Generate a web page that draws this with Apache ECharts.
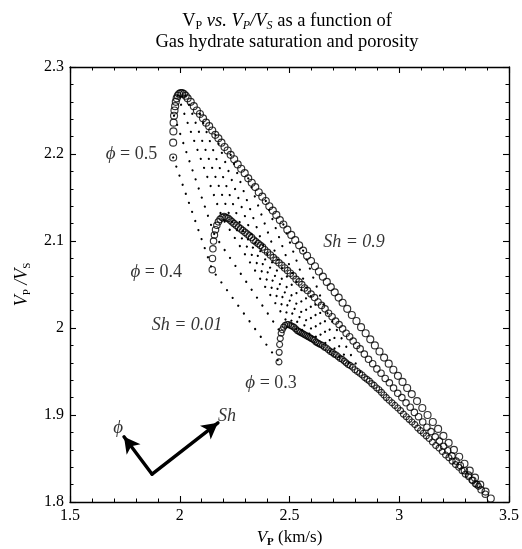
<!DOCTYPE html>
<html><head><meta charset="utf-8">
<script src="https://cdn.jsdelivr.net/npm/echarts@6/dist/echarts.min.js"></script>
<style>html,body{margin:0;padding:0;background:#fff}#c{width:522px;height:549px}</style>
</head><body><div id="c"></div>
<script>
// ---- data ----
// porosity 0.5 curve, Sh = 0.01 ... 0.90
const vp05 = [1.970,1.970,1.971,1.972,1.974,1.976,1.979,1.982,1.986,1.991,1.997,2.004,2.011,2.019,2.027,2.036,
2.050,2.064,2.078,2.092,2.106,2.120,2.134,2.148,2.162,2.176,2.190,2.204,2.218,2.232,
2.248,2.264,2.280,2.296,2.312,2.328,2.344,2.360,2.376,2.392,2.408,2.424,2.440,2.456,2.472,
2.490,2.508,2.526,2.544,2.562,2.580,2.598,2.616,2.634,2.652,2.670,2.688,2.706,2.724,2.742,
2.763,2.784,2.805,2.826,2.847,2.868,2.889,2.910,2.931,2.952,2.973,2.994,3.015,3.036,3.057,
3.081,3.105,3.129,3.153,3.177,3.201,3.225,3.249,3.273,3.297,3.321,3.345,3.369,3.393,3.417];
const ratio05 = [2.196,2.213,2.226,2.236,2.244,2.250,2.255,2.260,2.264,2.267,2.269,2.270,2.270,2.269,2.267,2.264,
2.260,2.255,2.250,2.246,2.241,2.236,2.232,2.227,2.222,2.218,2.213,2.208,2.204,2.199,
2.194,2.188,2.183,2.178,2.172,2.167,2.162,2.156,2.151,2.146,2.140,2.135,2.130,2.124,2.119,
2.113,2.107,2.101,2.095,2.089,2.083,2.077,2.071,2.065,2.059,2.053,2.047,2.041,2.035,2.029,
2.022,2.015,2.008,2.001,1.994,1.987,1.980,1.973,1.966,1.959,1.952,1.945,1.938,1.931,1.924,
1.916,1.908,1.900,1.892,1.884,1.876,1.868,1.860,1.852,1.844,1.836,1.828,1.820,1.812,1.804];
// porosity 0.4 curve
const vp04 = [2.148,2.149,2.151,2.154,2.158,2.163,2.169,2.176,2.184,2.193,2.202,2.211,2.220,2.229,2.238,
2.247,2.257,2.267,2.277,2.287,2.297,2.307,2.317,2.327,2.337,2.347,2.357,2.367,2.377,2.387,
2.400,2.413,2.426,2.439,2.452,2.465,2.478,2.491,2.504,2.517,2.530,2.543,2.556,2.569,2.582,
2.598,2.614,2.630,2.646,2.662,2.678,2.694,2.710,2.726,2.742,2.758,2.774,2.790,2.806,2.822,
2.841,2.860,2.879,2.898,2.917,2.936,2.955,2.974,2.993,3.012,3.031,3.050,3.069,3.088,3.107,
3.126,3.145,3.164,3.183,3.202,3.221,3.240,3.259,3.278,3.297,3.316,3.335,3.354,3.373,3.392];
const ratio04 = [2.067,2.080,2.091,2.100,2.107,2.113,2.118,2.122,2.125,2.127,2.128,2.127,2.126,2.124,2.122,
2.120,2.118,2.116,2.114,2.112,2.110,2.108,2.106,2.104,2.101,2.099,2.097,2.095,2.093,2.090,
2.087,2.084,2.081,2.078,2.075,2.072,2.069,2.066,2.063,2.060,2.056,2.053,2.050,2.046,2.043,
2.039,2.035,2.030,2.026,2.022,2.017,2.013,2.008,2.004,1.999,1.994,1.990,1.985,1.980,1.976,
1.970,1.964,1.959,1.953,1.948,1.942,1.937,1.931,1.925,1.920,1.914,1.909,1.903,1.898,1.892,
1.886,1.881,1.875,1.870,1.864,1.859,1.853,1.847,1.842,1.836,1.831,1.825,1.820,1.814,1.809];
// porosity 0.3 curve
const vp03 = [2.452,2.453,2.455,2.458,2.462,2.467,2.473,2.480,2.488,2.496,2.504,2.512,2.520,2.528,2.536,
2.543,2.550,2.557,2.564,2.571,2.578,2.585,2.592,2.599,2.606,2.613,2.620,2.627,2.634,2.641,
2.650,2.659,2.668,2.677,2.686,2.695,2.704,2.713,2.722,2.731,2.740,2.749,2.758,2.767,2.776,
2.787,2.798,2.809,2.820,2.831,2.842,2.853,2.864,2.875,2.886,2.897,2.908,2.919,2.930,2.941,
2.954,2.967,2.980,2.993,3.006,3.019,3.032,3.045,3.058,3.071,3.084,3.097,3.110,3.123,3.136,
3.151,3.166,3.181,3.196,3.211,3.226,3.241,3.256,3.271,3.286,3.301,3.316,3.331,3.346,3.361];
const ratio03 = [1.961,1.972,1.981,1.988,1.994,1.998,2.001,2.003,2.004,2.004,2.003,2.002,2.001,1.999,1.997,
1.996,1.995,1.994,1.993,1.992,1.991,1.990,1.989,1.988,1.987,1.986,1.984,1.983,1.982,1.981,
1.980,1.978,1.977,1.975,1.973,1.972,1.970,1.969,1.967,1.965,1.964,1.962,1.960,1.958,1.957,
1.955,1.952,1.950,1.948,1.946,1.943,1.941,1.939,1.936,1.934,1.931,1.929,1.926,1.923,1.920,
1.917,1.914,1.911,1.908,1.905,1.901,1.898,1.895,1.892,1.889,1.885,1.882,1.879,1.876,1.873,
1.869,1.865,1.862,1.858,1.854,1.851,1.847,1.843,1.840,1.836,1.832,1.829,1.825,1.821,1.818];
// Sh steps (1-based index into the curves) joined by dotted iso-saturation lines
const isoShIndex = [1,5,10,15,20,25,30,35,40,45,50];
// axis ticks
const xTickLabels = [1.5, 2, 2.5, 3, 3.5];
const yTickLabels = [1.8, 1.9, 2, 2.1, 2.2, 2.3];
// annotations
const noteX = [1.780, 1.893, 2.416, 2.033, 2.794, 1.719, 2.215];
const noteY = [2.200, 2.064, 1.937, 2.003, 2.099, 1.885, 1.898];
const noteText = ['0.5', '0.4', '0.3', 'Sh = 0.01', 'Sh = 0.9', 'phi', 'Sh'];
// direction arrows: shared vertex, then the phi tip and the Sh tip
const arrowVertex = [1.874, 1.832];
const arrowTipVp = [1.746, 2.174];
const arrowTipRatio = [1.875, 1.891];

// ---- chart ----
const FONT = "'Liberation Serif','Times New Roman',serif";
const chart = echarts.init(document.getElementById('c'), null, {renderer: 'canvas'});

function pts(xs, ys) { return xs.map((v, i) => [v, ys[i]]); }

const circleStyle = {color: 'rgba(0,0,0,0)', borderColor: '#000', borderWidth: 1.15};
const series = [
  {type: 'scatter', data: pts(vp05, ratio05), symbol: 'circle', symbolSize: 7, itemStyle: circleStyle, z: 3, silent: true},
  {type: 'scatter', data: pts(vp04, ratio04), symbol: 'circle', symbolSize: 6.4, itemStyle: circleStyle, z: 3, silent: true},
  {type: 'scatter', data: pts(vp03, ratio03), symbol: 'circle', symbolSize: 6.0, itemStyle: circleStyle, z: 3, silent: true}
];
isoShIndex.forEach(k => {
  const i = k - 1;
  series.push({
    type: 'line', showSymbol: false, silent: true, z: 2,
    data: [[vp05[i], ratio05[i]], [vp04[i], ratio04[i]], [vp03[i], ratio03[i]]],
    lineStyle: {color: '#000', width: 2.2, type: [0.1, 9.5], cap: 'round'}
  });
});
// arrows as mark lines on an empty helper series
series.push({
  type: 'line', data: [], silent: true, z: 4,
  markLine: {
    silent: true, animation: false,
    symbol: ['none', 'arrow'], symbolSize: [13, 16],
    label: {show: false},
    lineStyle: {color: '#000', width: 3.4, type: 'solid', cap: 'round', opacity: 1},
    emphasis: {disabled: true},
    data: arrowTipVp.map((v, i) => [{coord: arrowVertex}, {coord: [v, arrowTipRatio[i]]}])
  }
});
// text annotations
const noteData = noteX.map((x, i) => {
  const t = noteText[i];
  let label;
  if (t === 'phi') label = '{p|ϕ}';
  else if (t === 'Sh') label = '{i|Sh}';
  else if (t.startsWith('Sh')) label = '{i|' + t + '}';
  else label = '{p|ϕ}{n| = ' + t + '}';
  return {value: [x, noteY[i]], label: {formatter: label}};
});
series.push({
  type: 'scatter', symbolSize: 0, silent: true, z: 5, data: noteData,
  label: {
    show: true, position: 'inside', color: '#000',
    rich: {
      p: {fontFamily: FONT, fontStyle: 'italic', fontSize: 19, color: '#000'},
      n: {fontFamily: FONT, fontSize: 18, color: '#000'},
      i: {fontFamily: FONT, fontStyle: 'italic', fontSize: 18, color: '#000'}
    }
  }
});

const tickFmt = v => (xTickLabels.concat(yTickLabels).some(t => Math.abs(t - v) < 1e-9) ? String(+v.toFixed(2)) : '');
const axisCommon = {
  type: 'value', splitLine: {show: false},
  axisLine: {show: true, onZero: false, lineStyle: {color: '#000', width: 1.4}},
  axisTick: {show: true, inside: true, length: 6, lineStyle: {color: '#000', width: 1.1}},
  minorTick: {show: true, splitNumber: 5, length: 3.5, lineStyle: {color: '#000', width: 1}},
  minorSplitLine: {show: false}
};
const labelStyle = {color: '#000', fontFamily: FONT, fontSize: 16};
const sub = {fontFamily: FONT, fontSize: 11, color: '#000', verticalAlign: 'bottom'};

const option = {
  backgroundColor: '#fff',
  animation: false,
  grid: {left: 70, right: 13, top: 67, bottom: 47, containLabel: false, outerBoundsMode: 'none'},
  xAxis: [
    Object.assign({}, axisCommon, {
      position: 'bottom', min: 1.5, max: 3.5, interval: 0.5,
      axisLabel: Object.assign({}, labelStyle, {margin: 6, formatter: tickFmt}),
      name: '{i|V}{s|P}{n| (km/s)}', nameLocation: 'middle', nameGap: 25,
      nameTextStyle: {rich: {
        i: {fontFamily: FONT, fontStyle: 'italic', fontSize: 17, color: '#000', lineHeight: 20},
        s: Object.assign({}, sub, {fontWeight: 'bold'}),
        n: {fontFamily: FONT, fontSize: 17, color: '#000', lineHeight: 20}
      }}
    }),
    Object.assign({}, axisCommon, {
      position: 'top', min: 1.5, max: 3.5, interval: 0.5, axisLabel: {show: false}
    })
  ],
  yAxis: [
    Object.assign({}, axisCommon, {
      position: 'left', min: 1.8, max: 2.3, interval: 0.1,
      axisLabel: Object.assign({}, labelStyle, {margin: 6, formatter: tickFmt}),
      name: '{i|V}{s|P}{i| /V}{s|S}', nameLocation: 'middle', nameGap: 37, nameRotate: 90,
      nameTextStyle: {rich: {
        i: {fontFamily: FONT, fontStyle: 'italic', fontSize: 18, color: '#000', lineHeight: 22},
        s: sub
      }}
    }),
    Object.assign({}, axisCommon, {
      position: 'right', min: 1.8, max: 2.3, interval: 0.1, axisLabel: {show: false}
    })
  ],
  graphic: [{
    type: 'text', x: 287, y: 11, silent: true,
    style: {
      text: '{n|V}{ns|P}{i| vs. V}{is|P}{i|/V}{is|S}{n| as a function of}\n{n|Gas hydrate saturation and porosity}',
      align: 'center', verticalAlign: 'top',
      rich: {
        n: {fontFamily: FONT, fontSize: 18.5, fill: '#000', color: '#000', lineHeight: 21},
        i: {fontFamily: FONT, fontStyle: 'italic', fontSize: 18.5, fill: '#000', color: '#000', lineHeight: 21},
        ns: {fontFamily: FONT, fontSize: 12, fill: '#000', color: '#000', verticalAlign: 'bottom'},
        is: {fontFamily: FONT, fontStyle: 'italic', fontSize: 12, fill: '#000', color: '#000', verticalAlign: 'bottom'}
      }
    }
  }],
  series: series
};
chart.setOption(option);
</script>
</body></html>
